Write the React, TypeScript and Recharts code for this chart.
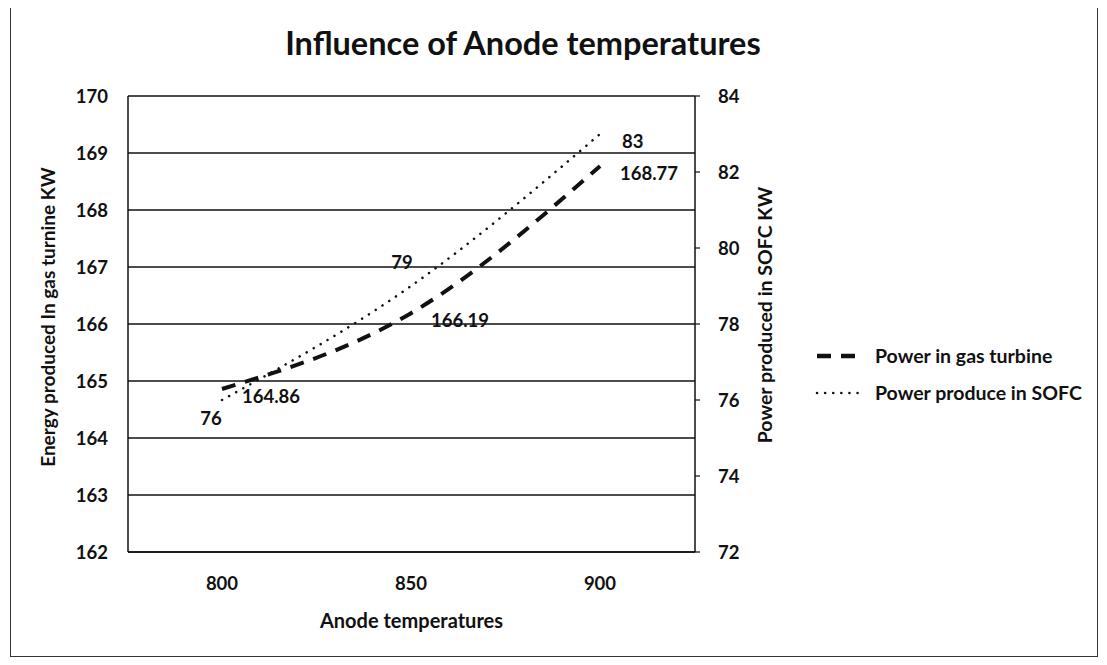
import { CartesianGrid, Label, LabelList, Legend, Line, LineChart, XAxis, YAxis } from "recharts";

const categories = ["800", "850", "900"];
const gasTurbine = [164.86, 166.19, 168.77];
const sofc = [76, 79, 83];
const leftTicks = [162, 163, 164, 165, 166, 167, 168, 169, 170];
const rightTicks = [72, 74, 76, 78, 80, 82, 84];

const data = categories.map((t, i) => ({ t, gas: gasTurbine[i], sofc: sofc[i] }));

const FONT = "Lato, 'Open Sans', sans-serif";
const INK = "#111";
const TICK = { fill: INK, fontSize: 18.5, fontWeight: 700, fontFamily: FONT };

// where each SOFC value label sits relative to its point
const sofcLabelOffsets = [
  { dx: -11, dy: 18, anchor: "middle" },
  { dx: -9, dy: -24, anchor: "middle" },
  { dx: 22, dy: 7, anchor: "start" },
];

function GasLabel(props: any) {
  const { x, y, value } = props;
  return (
    <text x={x + 20} y={y + 7} dominantBaseline="central" fontFamily={FONT} fontWeight={700} fontSize={18.5} fill={INK}>
      {value}
    </text>
  );
}

function SofcLabel(props: any) {
  const { x, y, value, index } = props;
  const o = sofcLabelOffsets[index] ?? sofcLabelOffsets[2];
  return (
    <text x={x + o.dx} y={y + o.dy} textAnchor={o.anchor} dominantBaseline="central" fontFamily={FONT} fontWeight={700} fontSize={18.5} fill={INK}>
      {value}
    </text>
  );
}

function axisTitle(text: string, dx: number, dy: number, size: number) {
  return (props: any) => {
    const vb = props.viewBox ?? {};
    const cx = (vb.x ?? 0) + (vb.width ?? 0) / 2 + dx;
    const cy = (vb.y ?? 0) + (vb.height ?? 0) / 2 + dy;
    return (
      <text
        x={cx}
        y={cy}
        transform={`rotate(-90 ${cx} ${cy})`}
        textAnchor="middle"
        dominantBaseline="central"
        fontFamily={FONT}
        fontWeight={700}
        fontSize={size}
        fill={INK}
      >
        {text}
      </text>
    );
  };
}

function LegendBox() {
  const rows = [
    { label: "Power in gas turbine", dash: "14 10", width: 4.5, cap: "butt" as const },
    { label: "Power produce in SOFC", dash: "0.1 8", width: 2.5, cap: "round" as const },
  ];
  return (
    <div style={{ fontFamily: FONT, fontWeight: 700, fontSize: 19.5, color: INK }}>
      {rows.map((r) => (
        <div key={r.label} style={{ display: "flex", alignItems: "center", height: 37 }}>
          <svg width={48} height={10} style={{ marginRight: 12 }}>
            <line x1={2} y1={5} x2={46} y2={5} stroke={INK} strokeWidth={r.width} strokeDasharray={r.dash} strokeLinecap={r.cap} />
          </svg>
          <span>{r.label}</span>
        </div>
      ))}
    </div>
  );
}

export default function App() {
  return (
    <div style={{ position: "relative", width: 1092, height: 652 }}>
      <div
        style={{
          position: "absolute",
          left: 2,
          top: -3,
          width: 1088,
          height: 652,
          border: "1px solid #333",
          boxSizing: "border-box",
        }}
      />
      <div
        style={{
          position: "absolute",
          left: 115,
          top: 18,
          width: 800,
          textAlign: "center",
          fontFamily: FONT,
          fontWeight: 700,
          fontSize: 32.5,
          lineHeight: "34px",
          color: INK,
        }}
      >
        Influence of Anode temperatures
      </div>
      <LineChart width={1090} height={655} data={data} margin={{ top: 88, right: 303, bottom: 31, left: 0 }}>
        <CartesianGrid yAxisId="left" vertical={false} stroke={INK} strokeWidth={1.3} />
        <XAxis
          dataKey="t"
          padding={{ left: 94, right: 95 }}
          height={80}
          axisLine={{ stroke: INK, strokeWidth: 1.5 }}
          tickLine={false}
          tickSize={0}
          tickMargin={25}
          tick={TICK}
        >
          <Label
            value="Anode temperatures"
            position="insideBottom"
            offset={4}
            style={{ fill: INK, fontSize: 20, fontWeight: 700, fontFamily: FONT }}
          />
        </XAxis>
        <YAxis
          yAxisId="left"
          width={120}
          domain={[162, 170]}
          ticks={leftTicks}
          interval={0}
          axisLine={{ stroke: INK, strokeWidth: 1.5 }}
          tickLine={false}
          tickSize={0}
          tickMargin={20}
          tick={TICK}
        >
          <Label content={axisTitle("Energy produced In gas turnine  KW", -21, -7, 19)} />
        </YAxis>
        <YAxis
          yAxisId="right"
          orientation="right"
          width={100}
          domain={[72, 84]}
          ticks={rightTicks}
          interval={0}
          axisLine={{ stroke: INK, strokeWidth: 1.5 }}
          tickLine={{ stroke: INK, strokeWidth: 1.2 }}
          tickSize={5}
          tickMargin={18}
          tick={TICK}
        >
          <Label content={axisTitle("Power produced in SOFC KW", 19, -9, 19.5)} />
        </YAxis>
        <Legend
          verticalAlign="middle"
          align="center"
          layout="horizontal"
          content={<LegendBox />}
          wrapperStyle={{ left: 807, top: 329, width: 290 }}
        />
        <Line
          yAxisId="left"
          type="monotone"
          dataKey="gas"
          name="Power in gas turbine"
          stroke={INK}
          strokeWidth={4}
          strokeDasharray="14 10"
          dot={false}
          isAnimationActive={false}
        >
          <LabelList dataKey="gas" content={<GasLabel />} />
        </Line>
        <Line
          yAxisId="right"
          type="monotone"
          dataKey="sofc"
          name="Power produce in SOFC"
          stroke={INK}
          strokeWidth={2.5}
          strokeDasharray="0.1 8"
          strokeLinecap="round"
          dot={false}
          isAnimationActive={false}
        >
          <LabelList dataKey="sofc" content={<SofcLabel />} />
        </Line>
      </LineChart>
    </div>
  );
}
